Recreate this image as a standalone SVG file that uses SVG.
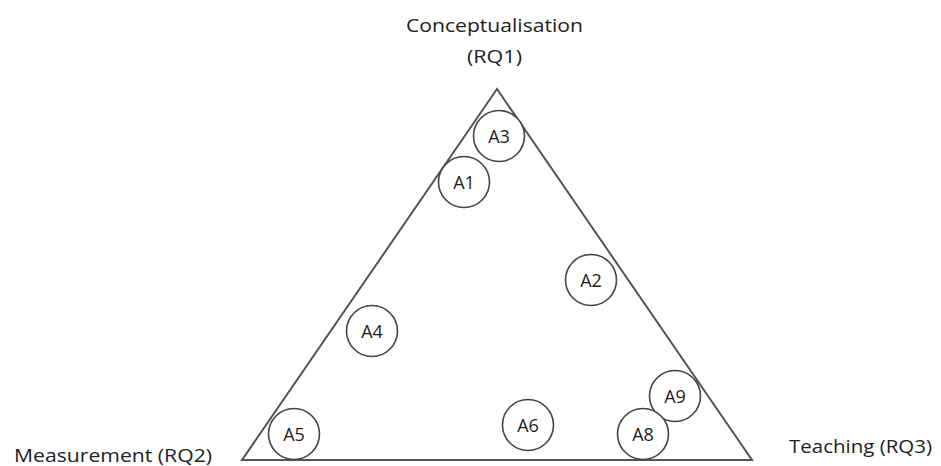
<svg xmlns="http://www.w3.org/2000/svg" width="941" height="466" viewBox="0 0 941 466">
<style>
.edge{fill:none;stroke:#555;stroke-width:2;stroke-linejoin:miter}
.c{fill:#fff;stroke:#444;stroke-width:1.6}
.lbl{font-family:"Open Sans","Liberation Sans",Arial,sans-serif;font-size:18px;fill:#1e1e1e;text-anchor:middle}
.t{font-family:"Open Sans","Liberation Sans",Arial,sans-serif;font-size:18px;fill:#222}
</style>
<rect width="941" height="466" fill="#fff"/>
<g id="connectors">
<polygon class="edge" points="497,89 242,460 752,460"/>
</g>
<g id="corner-top"><text class="t" x="406" y="32" textLength="177" lengthAdjust="spacingAndGlyphs">Conceptualisation</text><text class="t" x="467" y="63" textLength="55" lengthAdjust="spacingAndGlyphs">(RQ1)</text></g>
<g id="corner-left"><text class="t" x="14" y="462" textLength="198" lengthAdjust="spacingAndGlyphs">Measurement (RQ2)</text></g>
<g id="corner-right"><text class="t" x="789" y="453" textLength="143" lengthAdjust="spacingAndGlyphs">Teaching (RQ3)</text></g>
<g id="A3"><circle class="c" cx="499" cy="136" r="25.5"/><text class="lbl" x="499" y="142.5">A3</text></g>
<g id="A1"><circle class="c" cx="464" cy="182" r="25.5"/><text class="lbl" x="464" y="188.5">A1</text></g>
<g id="A2"><circle class="c" cx="591" cy="280" r="25.5"/><text class="lbl" x="591" y="286.5">A2</text></g>
<g id="A4"><circle class="c" cx="372" cy="331" r="25.5"/><text class="lbl" x="372" y="337.5">A4</text></g>
<g id="A5"><circle class="c" cx="294" cy="434" r="25.5"/><text class="lbl" x="294" y="440.5">A5</text></g>
<g id="A6"><circle class="c" cx="528" cy="425" r="25.5"/><text class="lbl" x="528" y="431.5">A6</text></g>
<g id="A9"><circle class="c" cx="675" cy="396" r="25.5"/><text class="lbl" x="675" y="402.5">A9</text></g>
<g id="A8"><circle class="c" cx="643" cy="434" r="25.5"/><text class="lbl" x="643" y="440.5">A8</text></g>
</svg>
